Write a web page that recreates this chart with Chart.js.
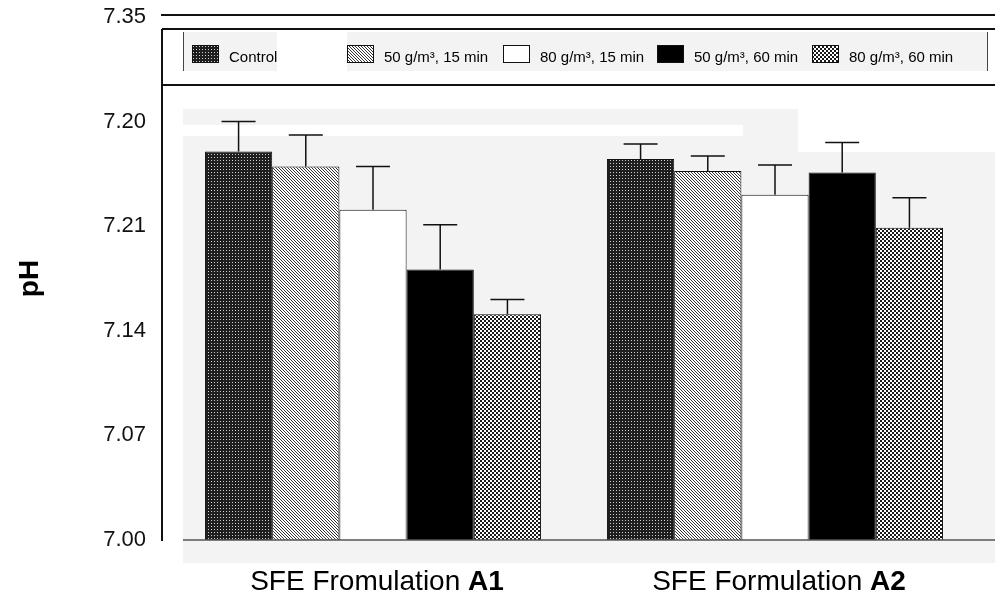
<!DOCTYPE html>
<html><head><meta charset="utf-8">
<script src="https://cdn.jsdelivr.net/npm/chart.js@4.4.1/dist/chart.umd.min.js"></script>
<style>html,body{margin:0;padding:0;background:#fff;overflow:hidden}canvas{display:block}</style>
</head><body>
<canvas id="c" width="995" height="608"></canvas>
<script>
// ---- data ----
const categoryNames = ['SFE Fromulation', 'SFE Formulation'];
const categoryCodes = ['A1', 'A2'];
const seriesNames = ['Control', '50 g/m³, 15 min', '80 g/m³, 15 min', '50 g/m³, 60 min', '80 g/m³, 60 min'];
const controlMean = [7.260, 7.255];
const g50m15Mean  = [7.250, 7.247];
const g80m15Mean  = [7.221, 7.231];
const g50m60Mean  = [7.181, 7.246];
const g80m60Mean  = [7.151, 7.209];
const controlSD = [0.020, 0.010];
const g50m15SD  = [0.021, 0.010];
const g80m15SD  = [0.029, 0.020];
const g50m60SD  = [0.030, 0.020];
const g80m60SD  = [0.010, 0.020];
const yTickValues = [7.00, 7.07, 7.14, 7.21, 7.28, 7.35];
const yTickLabels = ['7.00', '7.07', '7.14', '7.21', '7.20', '7.35'];
const yAxisTitle = 'pH';

const means = [controlMean, g50m15Mean, g80m15Mean, g50m60Mean, g80m60Mean];
const sds = [controlSD, g50m15SD, g80m15SD, g50m60SD, g80m60SD];

const canvas = document.getElementById('c');
const ctx0 = canvas.getContext('2d');
function makePattern(w, h, draw) {
  const c = document.createElement('canvas'); c.width = w; c.height = h;
  const g = c.getContext('2d'); draw(g);
  return ctx0.createPattern(c, 'repeat');
}
const patControl = makePattern(3, 3, g => {
  g.fillStyle = '#1e1e1e'; g.fillRect(0, 0, 3, 3);
  g.fillStyle = '#d0d0d0'; g.fillRect(1, 1, 1, 1);
});
const patHatch = makePattern(3, 3, g => {
  g.fillStyle = '#ffffff'; g.fillRect(0, 0, 3, 3);
  g.fillStyle = '#333333'; g.fillRect(0, 0, 1, 1); g.fillRect(1, 1, 1, 1); g.fillRect(2, 2, 1, 1);
});
const patCheck = makePattern(4, 4, g => {
  g.fillStyle = '#ffffff'; g.fillRect(0, 0, 4, 4);
  g.fillStyle = '#1a1a1a'; g.fillRect(0, 0, 2, 2); g.fillRect(2, 2, 2, 2);
});
const fills = [patControl, patHatch, '#ffffff', '#000000', patCheck];

const FONT = "'Liberation Sans', Arial, Helvetica, sans-serif";

const decor = {
  id: 'decor',
  beforeDraw(chart) {
    const ctx = chart.ctx;
    ctx.save();
    ctx.fillStyle = '#ffffff'; ctx.fillRect(0, 0, chart.width, chart.height);
    ctx.fillStyle = '#f3f3f3';
    ctx.fillRect(183, 32, 94, 39);
    ctx.fillRect(347, 32, 640, 39);
    ctx.fillRect(183, 109, 615, 454);
    ctx.fillRect(798, 152, 197, 411);
    ctx.fillStyle = '#ffffff';
    ctx.fillRect(183, 125, 560, 11);
    ctx.restore();
  },
  afterDatasetsDraw(chart) {
    const ctx = chart.ctx, y = chart.scales.y;
    ctx.save();
    ctx.strokeStyle = '#111'; ctx.lineWidth = 1.5;
    chart.data.datasets.forEach((ds, i) => {
      const meta = chart.getDatasetMeta(i);
      meta.data.forEach((bar, j) => {
        const yTop = bar.y;
        const yErr = y.getPixelForValue(means[i][j] + sds[i][j]);
        ctx.beginPath();
        ctx.moveTo(bar.x, yTop); ctx.lineTo(bar.x, yErr);
        ctx.moveTo(bar.x - 17, yErr); ctx.lineTo(bar.x + 17, yErr);
        ctx.stroke();
      });
    });
    ctx.strokeStyle = '#555'; ctx.lineWidth = 1.5;
    ctx.beginPath();
    ctx.moveTo(183, chart.chartArea.bottom); ctx.lineTo(chart.width, chart.chartArea.bottom);
    ctx.stroke();
    ctx.restore();
  },
  afterDraw(chart) {
    const ctx = chart.ctx;
    ctx.save();
    ctx.strokeStyle = '#111'; ctx.lineWidth = 2;
    ctx.beginPath();
    ctx.moveTo(162, 29); ctx.lineTo(162, chart.chartArea.bottom + 1);
    ctx.moveTo(161, 15); ctx.lineTo(chart.width, 15);
    ctx.moveTo(162, 29); ctx.lineTo(chart.width, 29);
    ctx.moveTo(162, 85); ctx.lineTo(chart.width, 85);
    ctx.stroke();
    ctx.strokeStyle = '#444'; ctx.lineWidth = 1;
    ctx.beginPath();
    ctx.moveTo(183.5, 32); ctx.lineTo(183.5, 71);
    ctx.moveTo(987.5, 32); ctx.lineTo(987.5, 71);
    ctx.stroke();
    const lx = [192, 347, 503, 657, 812];
    ctx.font = '15px ' + FONT; ctx.textBaseline = 'alphabetic'; ctx.textAlign = 'left';
    seriesNames.forEach((name, i) => {
      ctx.fillStyle = fills[i];
      ctx.fillRect(lx[i], 45, 27, 18);
      ctx.strokeStyle = '#111'; ctx.lineWidth = 1;
      ctx.strokeRect(lx[i] + 0.5, 45.5, 26, 17);
      ctx.fillStyle = '#000';
      ctx.fillText(name, lx[i] + 37, 62);
    });
    const xs = chart.scales.x;
    categoryNames.forEach((nm, i) => {
      const cx = xs.getPixelForValue(i) + 4;
      ctx.font = '28px ' + FONT;
      const w1 = ctx.measureText(nm + ' ').width;
      ctx.font = 'bold 28px ' + FONT;
      const w2 = ctx.measureText(categoryCodes[i]).width;
      const x0 = cx - (w1 + w2) / 2;
      ctx.fillStyle = '#000';
      ctx.font = '28px ' + FONT;
      ctx.fillText(nm + ' ', x0, 590);
      ctx.font = 'bold 28px ' + FONT;
      ctx.fillText(categoryCodes[i], x0 + w1, 590);
    });
    ctx.restore();
  }
};

new Chart(canvas, {
  type: 'bar',
  data: {
    labels: categoryNames.map((n, i) => n + ' ' + categoryCodes[i]),
    datasets: seriesNames.map((name, i) => ({
      label: name,
      data: means[i],
      backgroundColor: fills[i],
      borderColor: '#111',
      borderWidth: 1,
      categoryPercentage: 0.836,
      barPercentage: 1.0
    }))
  },
  options: {
    responsive: false,
    devicePixelRatio: 1,
    animation: false,
    layout: { padding: { top: 17, right: 19, left: 0, bottom: 0 } },
    plugins: { legend: { display: false }, tooltip: { enabled: false } },
    scales: {
      x: {
        grid: { display: false, drawTicks: false },
        border: { display: false },
        ticks: { display: false },
        afterFit(s) { s.height = 68; s.paddingLeft = 0; s.paddingRight = 0; }
      },
      y: {
        min: 7.0, max: 7.35,
        grid: { display: false, drawTicks: false },
        border: { display: false },
        afterBuildTicks(s) { s.ticks = yTickValues.map(v => ({ value: v })); },
        ticks: {
          padding: 26,
          color: '#111',
          font: { family: FONT, size: 22 },
          callback(v, idx) { return yTickLabels[idx]; }
        },
        title: {
          display: true, text: yAxisTitle, color: '#000',
          font: { family: FONT, size: 28, weight: 'bold' },
          padding: { top: 13, bottom: 0 }
        },
        afterFit(s) { s.width = 172; s.paddingTop = 0; s.paddingBottom = 0; }
      }
    }
  },
  plugins: [decor]
});
</script>
</body></html>
